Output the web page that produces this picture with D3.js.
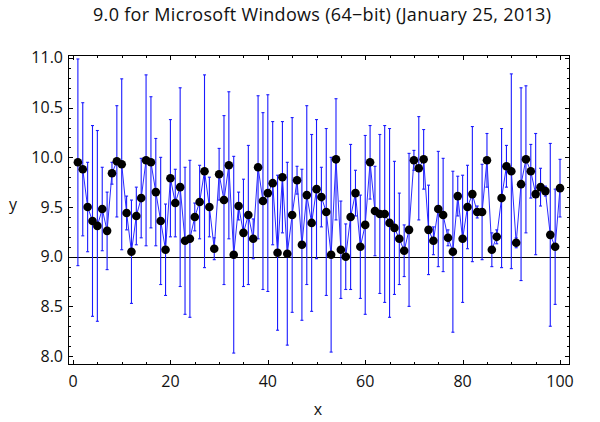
<!DOCTYPE html>
<html><head><meta charset="utf-8">
<script src="https://cdn.jsdelivr.net/npm/d3@7"></script>
<style>body{margin:0;background:#fff}svg{display:block}</style>
</head><body>
<svg id="c" width="600" height="422"></svg>
<script>
const title = "9.0 for Microsoft Windows (64\u2212bit) (January 25, 2013)";
const xValues = d3.range(1, 101);
const yValues = [9.95,9.88,9.50,9.36,9.31,9.48,9.26,9.84,9.96,9.93,
9.44,9.05,9.41,9.59,9.97,9.95,9.65,9.36,9.07,9.79,
9.54,9.70,9.16,9.18,9.40,9.55,9.86,9.50,9.08,9.83,
9.57,9.92,9.02,9.51,9.24,9.42,9.18,9.90,9.56,9.64,
9.74,9.04,9.80,9.03,9.42,9.77,9.12,9.62,9.34,9.68,
9.60,9.45,9.02,9.98,9.07,9.00,9.40,9.64,9.10,9.32,
9.95,9.46,9.43,9.43,9.34,9.29,9.18,9.06,9.27,9.97,
9.89,9.98,9.27,9.16,9.48,9.42,9.19,9.05,9.61,9.18,
9.50,9.63,9.45,9.45,9.97,9.07,9.20,9.59,9.91,9.86,
9.14,9.73,9.98,9.86,9.63,9.70,9.66,9.22,9.10,9.69];
const errValues = [1.04,0.67,0.45,0.96,0.96,0.42,0.39,0.11,0.56,0.86,
0.17,0.52,0.29,0.40,0.86,0.66,0.54,0.64,0.46,0.59,
0.34,1.00,0.74,0.79,0.14,0.37,0.97,0.30,0.11,0.26,
0.85,0.74,0.99,0.14,0.54,0.70,0.20,0.72,0.89,0.99,
0.62,0.78,0.56,0.92,0.98,0.14,0.76,0.90,0.89,0.70,
0.30,0.84,0.98,0.61,0.49,0.33,0.73,0.23,0.52,0.90,
0.37,0.45,0.80,0.89,0.95,0.67,0.46,0.26,0.77,0.10,
0.52,0.30,0.45,0.14,0.58,0.57,0.08,0.81,0.20,0.64,
0.42,0.68,0.06,0.48,0.27,0.17,0.07,0.70,0.21,0.98,
0.05,0.97,0.74,0.27,0.61,0.19,0.05,0.92,0.58,0.29];
const xTicks = [0,20,40,60,80,100];
const yTicks = [8.0,8.5,9.0,9.5,10.0,10.5,11.0];
const refLine = 9.0;

const data = xValues.map((x,i)=>({x, y:yValues[i], e:errValues[i]}));
const svg = d3.select("#c");
const L=68, R=570, T=55, B=365;
const x = d3.scaleLinear().domain([-1.03, 102.05]).range([L, R]);
const y = d3.scaleLinear().domain([7.91, 11.03]).range([B, T]);
const font = "'Segoe UI','Open Sans','Noto Sans',sans-serif";

// frame ticks
const fr = svg.append("g").attr("stroke","#000").attr("stroke-width",1);
d3.range(0, 101, 5).forEach(v=>{
  const major = v%20===0, len = major?5:3, px = Math.round(x(v))+0.5;
  fr.append("line").attr("x1",px).attr("x2",px).attr("y1",B).attr("y2",B-len);
  fr.append("line").attr("x1",px).attr("x2",px).attr("y1",T).attr("y2",T+len);
});
d3.range(80, 111, 1).forEach(k=>{
  const v=k/10, major = k%5===0, len = major?5:3, py = Math.round(y(v))+0.5;
  fr.append("line").attr("x1",L).attr("x2",L+len).attr("y1",py).attr("y2",py);
  fr.append("line").attr("x1",R).attr("x2",R-len).attr("y1",py).attr("y2",py);
});
svg.append("rect").attr("x",L+0.5).attr("y",T+0.5).attr("width",R-L-1).attr("height",B-T-1)
  .attr("fill","none").attr("stroke","#000").attr("stroke-width",1);

// tick labels
svg.append("g").selectAll("text").data(xTicks).join("text")
  .attr("x",d=>x(d)).attr("y",B+22).attr("text-anchor","middle")
  .attr("font-family",font).attr("font-size",16).attr("fill","#111").text(d=>d);
svg.append("g").selectAll("text").data(yTicks).join("text")
  .attr("x",L-5).attr("y",d=>y(d)+5.5).attr("text-anchor","end")
  .attr("font-family",font).attr("font-size",16).attr("fill","#111").text(d=>d3.format(".1f")(d));

// reference line
svg.append("line").attr("x1",L).attr("x2",R).attr("y1",Math.round(y(refLine))+0.5).attr("y2",Math.round(y(refLine))+0.5)
  .attr("stroke","#000").attr("stroke-width",1.2);

// error bars
const eb = svg.append("g").attr("stroke","#1a1aff").attr("stroke-width",1.1);
data.forEach(d=>{
  const cx=x(d.x), y1=y(d.y+d.e), y2=y(d.y-d.e);
  eb.append("line").attr("x1",cx).attr("x2",cx).attr("y1",y1).attr("y2",y2);
  eb.append("line").attr("x1",cx-1.5).attr("x2",cx+1.5).attr("y1",y1).attr("y2",y1);
  eb.append("line").attr("x1",cx-1.5).attr("x2",cx+1.5).attr("y1",y2).attr("y2",y2);
});

// connecting line
svg.append("path").datum(data)
  .attr("d", d3.line().x(d=>x(d.x)).y(d=>y(d.y)))
  .attr("fill","none").attr("stroke","#2a2aff").attr("stroke-width",1);

// points
svg.append("g").selectAll("circle").data(data).join("circle")
  .attr("cx",d=>x(d.x)).attr("cy",d=>y(d.y)).attr("r",4.3).attr("fill","#000");

// titles
svg.append("text").attr("x",322).attr("y",21).attr("text-anchor","middle")
  .attr("font-family",font).attr("font-size",18).attr("fill","#111")
  .attr("textLength",458).attr("lengthAdjust","spacing").text(title);
svg.append("text").attr("x",318).attr("y",415).attr("text-anchor","middle")
  .attr("font-family",font).attr("font-size",16).attr("fill","#111").text("x");
svg.append("text").attr("x",13).attr("y",210).attr("text-anchor","middle")
  .attr("font-family",font).attr("font-size",16).attr("fill","#111").text("y");
</script>
</body></html>
